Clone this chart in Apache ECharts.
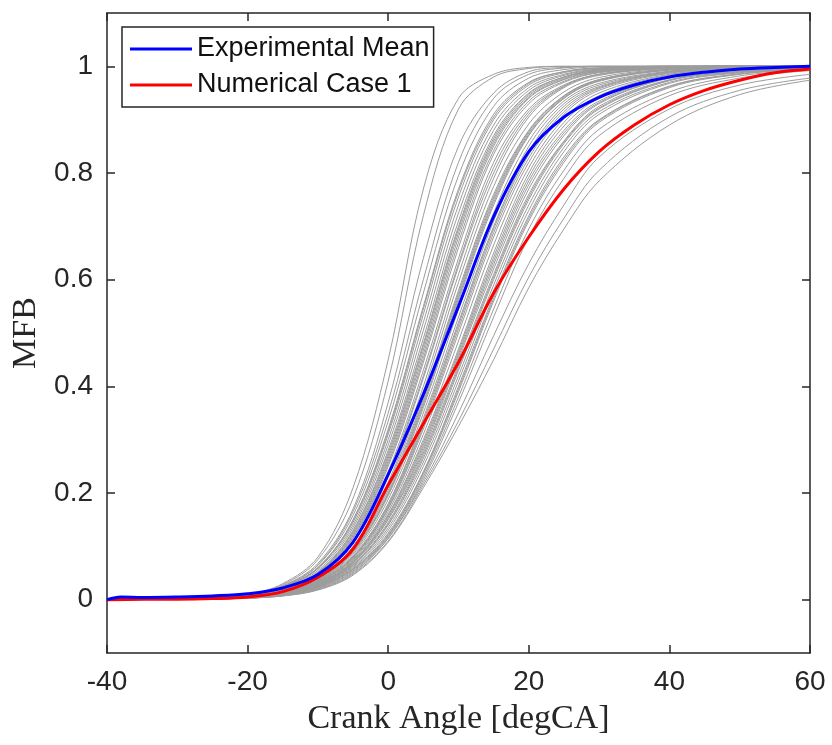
<!DOCTYPE html>
<html>
<head>
<meta charset="utf-8">
<script src="https://cdn.jsdelivr.net/npm/echarts@6/dist/echarts.min.js"></script>
<style>
  html, body { margin: 0; padding: 0; background: #fff; }
  #chart { width: 832px; height: 745px; }
</style>
</head>
<body>
<div id="chart"></div>
<script>
// crank angle samples for the individual cycles
const cycleAngles = [-40, -30, -20, -15, -10, -5, 0, 5, 10, 15, 20, 25, 30, 40, 50, 60];
// MFB of the individual measured cycles (grey)
const grayCycles = [
  [0, 0.002, 0.010, 0.030, 0.080, 0.210, 0.450, 0.770, 0.940, 0.985, 0.998, 1, 1, 1, 1, 1],
  [0, 0.002, 0.010, 0.028, 0.075, 0.190, 0.410, 0.720, 0.920, 0.980, 0.996, 1, 1, 1, 1, 1],
  [0, 0.002, 0.009, 0.026, 0.068, 0.170, 0.370, 0.640, 0.850, 0.950, 0.990, 0.998, 1, 1, 1, 1],
  [0, 0.002, 0.009, 0.025, 0.065, 0.165, 0.350, 0.600, 0.820, 0.940, 0.985, 0.997, 1, 1, 1, 1],
  [0, 0.002, 0.009, 0.025, 0.064, 0.158, 0.335, 0.575, 0.795, 0.925, 0.978, 0.994, 0.999, 1, 1, 1],
  [0, 0.002, 0.009, 0.024, 0.060, 0.150, 0.320, 0.550, 0.770, 0.910, 0.970, 0.990, 0.997, 1, 1, 1],
  [0, 0.002, 0.008, 0.023, 0.059, 0.148, 0.315, 0.545, 0.765, 0.905, 0.968, 0.990, 0.997, 1, 1, 1],
  [0, 0.002, 0.008, 0.023, 0.060, 0.145, 0.310, 0.535, 0.755, 0.900, 0.965, 0.988, 0.996, 1, 1, 1],
  [0, 0.002, 0.008, 0.022, 0.058, 0.140, 0.300, 0.520, 0.740, 0.890, 0.960, 0.985, 0.995, 1, 1, 1],
  [0, 0.002, 0.008, 0.021, 0.055, 0.135, 0.290, 0.505, 0.725, 0.880, 0.955, 0.983, 0.994, 1, 1, 1],
  [0, 0.002, 0.008, 0.020, 0.052, 0.130, 0.280, 0.490, 0.710, 0.870, 0.950, 0.980, 0.993, 0.999, 1, 1],
  [0, 0.002, 0.007, 0.020, 0.051, 0.128, 0.275, 0.480, 0.700, 0.865, 0.948, 0.980, 0.993, 0.999, 1, 1],
  [0, 0.002, 0.007, 0.019, 0.050, 0.125, 0.270, 0.475, 0.695, 0.860, 0.945, 0.978, 0.992, 0.999, 1, 1],
  [0, 0.002, 0.007, 0.019, 0.049, 0.122, 0.265, 0.468, 0.688, 0.855, 0.942, 0.976, 0.991, 0.998, 1, 1],
  [0, 0.002, 0.007, 0.018, 0.048, 0.120, 0.260, 0.460, 0.680, 0.850, 0.940, 0.975, 0.990, 0.998, 1, 1],
  [0, 0.002, 0.007, 0.018, 0.047, 0.117, 0.255, 0.452, 0.670, 0.842, 0.935, 0.972, 0.989, 0.998, 1, 1],
  [0, 0.002, 0.007, 0.017, 0.046, 0.115, 0.250, 0.445, 0.660, 0.835, 0.930, 0.970, 0.988, 0.998, 1, 1],
  [0, 0.002, 0.007, 0.018, 0.045, 0.110, 0.240, 0.430, 0.640, 0.820, 0.920, 0.965, 0.985, 0.997, 1, 1],
  [0, 0.002, 0.007, 0.017, 0.044, 0.108, 0.235, 0.420, 0.630, 0.810, 0.915, 0.963, 0.985, 0.997, 1, 1],
  [0, 0.002, 0.006, 0.016, 0.043, 0.105, 0.230, 0.415, 0.625, 0.800, 0.910, 0.962, 0.985, 0.997, 1, 1],
  [0, 0.002, 0.006, 0.016, 0.042, 0.100, 0.220, 0.400, 0.610, 0.790, 0.905, 0.960, 0.983, 0.996, 0.999, 1],
  [0, 0.002, 0.006, 0.016, 0.041, 0.098, 0.215, 0.390, 0.595, 0.775, 0.892, 0.952, 0.979, 0.995, 0.999, 1],
  [0, 0.002, 0.006, 0.015, 0.040, 0.095, 0.210, 0.380, 0.580, 0.760, 0.880, 0.945, 0.975, 0.994, 0.999, 1],
  [0, 0.002, 0.006, 0.015, 0.039, 0.094, 0.205, 0.375, 0.575, 0.755, 0.878, 0.944, 0.975, 0.994, 0.999, 1],
  [0, 0.001, 0.006, 0.015, 0.038, 0.092, 0.200, 0.370, 0.570, 0.750, 0.875, 0.942, 0.974, 0.994, 0.999, 1],
  [0, 0.001, 0.005, 0.014, 0.037, 0.090, 0.198, 0.365, 0.565, 0.745, 0.872, 0.940, 0.973, 0.993, 0.998, 1],
  [0, 0.001, 0.005, 0.014, 0.036, 0.088, 0.195, 0.360, 0.560, 0.740, 0.870, 0.940, 0.972, 0.993, 0.998, 1],
  [0, 0.001, 0.005, 0.014, 0.035, 0.085, 0.188, 0.350, 0.545, 0.725, 0.860, 0.935, 0.968, 0.991, 0.998, 1],
  [0, 0.001, 0.005, 0.013, 0.034, 0.082, 0.180, 0.340, 0.530, 0.710, 0.850, 0.930, 0.965, 0.990, 0.997, 1],
  [0, 0.001, 0.005, 0.013, 0.033, 0.080, 0.175, 0.330, 0.515, 0.695, 0.835, 0.920, 0.960, 0.989, 0.997, 1],
  [0, 0.001, 0.005, 0.013, 0.033, 0.079, 0.178, 0.335, 0.520, 0.700, 0.840, 0.925, 0.962, 0.990, 0.997, 1],
  [0, 0.001, 0.005, 0.012, 0.032, 0.078, 0.172, 0.325, 0.508, 0.688, 0.828, 0.915, 0.958, 0.988, 0.996, 0.999],
  [0, 0.001, 0.005, 0.012, 0.031, 0.076, 0.170, 0.320, 0.500, 0.680, 0.820, 0.910, 0.955, 0.987, 0.996, 0.999],
  [0, 0.001, 0.004, 0.012, 0.030, 0.074, 0.165, 0.310, 0.485, 0.665, 0.810, 0.902, 0.950, 0.985, 0.995, 0.999],
  [0, 0.001, 0.004, 0.012, 0.030, 0.072, 0.160, 0.300, 0.470, 0.650, 0.800, 0.895, 0.945, 0.984, 0.995, 0.999],
  [0, 0.001, 0.004, 0.011, 0.029, 0.071, 0.158, 0.295, 0.465, 0.642, 0.792, 0.888, 0.940, 0.982, 0.994, 0.999],
  [0, 0.001, 0.004, 0.011, 0.029, 0.070, 0.155, 0.290, 0.460, 0.635, 0.785, 0.880, 0.935, 0.980, 0.994, 0.999],
  [0, 0.001, 0.004, 0.011, 0.028, 0.069, 0.152, 0.285, 0.455, 0.628, 0.778, 0.875, 0.932, 0.979, 0.993, 0.998],
  [0, 0.001, 0.004, 0.011, 0.028, 0.068, 0.150, 0.280, 0.450, 0.620, 0.770, 0.870, 0.930, 0.978, 0.993, 0.998],
  [0, 0.001, 0.004, 0.010, 0.027, 0.066, 0.145, 0.275, 0.440, 0.610, 0.760, 0.860, 0.925, 0.975, 0.991, 0.997],
  [0, 0.001, 0.004, 0.010, 0.026, 0.065, 0.142, 0.270, 0.435, 0.605, 0.755, 0.858, 0.922, 0.974, 0.990, 0.997],
  [0, 0.001, 0.004, 0.010, 0.026, 0.064, 0.140, 0.265, 0.430, 0.600, 0.750, 0.855, 0.920, 0.973, 0.990, 0.997],
  [0, 0.001, 0.004, 0.010, 0.025, 0.062, 0.135, 0.258, 0.420, 0.590, 0.740, 0.848, 0.915, 0.970, 0.989, 0.996],
  [0, 0.001, 0.004, 0.010, 0.025, 0.060, 0.130, 0.250, 0.410, 0.580, 0.730, 0.840, 0.910, 0.968, 0.988, 0.996],
  [0, 0.001, 0.003, 0.009, 0.024, 0.058, 0.125, 0.240, 0.400, 0.570, 0.720, 0.830, 0.900, 0.963, 0.986, 0.996],
  [0, 0.001, 0.003, 0.009, 0.024, 0.057, 0.122, 0.238, 0.395, 0.565, 0.715, 0.825, 0.898, 0.962, 0.986, 0.996],
  [0, 0.001, 0.003, 0.009, 0.023, 0.056, 0.120, 0.235, 0.390, 0.560, 0.710, 0.820, 0.895, 0.960, 0.985, 0.995],
  [0, 0.001, 0.003, 0.009, 0.022, 0.054, 0.118, 0.230, 0.380, 0.545, 0.695, 0.805, 0.882, 0.952, 0.982, 0.994],
  [0, 0.001, 0.003, 0.008, 0.021, 0.052, 0.115, 0.225, 0.370, 0.530, 0.680, 0.790, 0.870, 0.945, 0.978, 0.992],
  [0, 0.001, 0.003, 0.008, 0.020, 0.050, 0.115, 0.220, 0.350, 0.495, 0.630, 0.740, 0.830, 0.920, 0.965, 0.985],
  [0, 0.001, 0.003, 0.007, 0.019, 0.048, 0.110, 0.215, 0.335, 0.470, 0.605, 0.715, 0.805, 0.905, 0.955, 0.978],
  [0, 0.001, 0.003, 0.007, 0.018, 0.046, 0.108, 0.210, 0.325, 0.450, 0.585, 0.695, 0.785, 0.890, 0.947, 0.974]
];
// experimental mean
const meanAngles = [-40, -38, -35, -30, -25, -20, -15, -10, -5, 0, 5, 10, 15, 20, 25, 30, 35, 40, 45, 50, 55, 60];
const meanMFB = [0, 0.005, 0.004, 0.005, 0.007, 0.011, 0.022, 0.047, 0.108, 0.235, 0.385, 0.550, 0.718, 0.840, 0.905, 0.942, 0.965, 0.980, 0.989, 0.995, 0.998, 1];
// numerical case 1
const caseAngles = [-40, -35, -30, -25, -20, -15, -10, -5, 0, 5, 10, 15, 20, 25, 30, 35, 40, 45, 50, 55, 60];
const caseMFB = [0, 0.001, 0.001, 0.002, 0.005, 0.015, 0.042, 0.095, 0.215, 0.330, 0.445, 0.575, 0.680, 0.770, 0.840, 0.890, 0.928, 0.955, 0.974, 0.988, 0.995];
const yTicks = [0, 0.2, 0.4, 0.6, 0.8, 1];

const axisColor = '#262626';
const pair = (xs, ys) => xs.map((x, i) => [x, ys[i]]);

let series = grayCycles.map((c, k) => ({
  name: 'cycle' + (k + 1),
  type: 'line',
  data: pair(cycleAngles, c),
  smooth: 0.35,
  symbol: 'none',
  silent: true,
  lineStyle: { color: '#9c9c9c', width: 1 },
  z: 2
}));
series.push({
  name: 'Numerical Case 1',
  type: 'line',
  data: pair(caseAngles, caseMFB),
  smooth: 0.35,
  symbol: 'none',
  lineStyle: { color: '#ff0000', width: 3 },
  itemStyle: { color: '#ff0000' },
  z: 3
});
series.push({
  name: 'Experimental Mean',
  type: 'line',
  data: pair(meanAngles, meanMFB),
  smooth: 0.35,
  symbol: 'none',
  lineStyle: { color: '#0000ff', width: 3 },
  itemStyle: { color: '#0000ff' },
  z: 4
});

const tickLabel = { color: axisColor, fontSize: 28, fontFamily: 'Liberation Sans, Arial' };
const nameStyle = { color: axisColor, fontSize: 34, fontFamily: 'Liberation Serif, Times New Roman' };

let myChart = echarts.init(document.getElementById('chart'));
let option = {
  animation: false,
  backgroundColor: '#fff',
  grid: { left: 107, right: 22, top: 13, bottom: 92, containLabel: false },
  legend: {
    data: ['Experimental Mean', 'Numerical Case 1'],
    orient: 'vertical',
    left: 122,
    top: 27,
    icon: 'rect',
    itemWidth: 62,
    itemHeight: 3,
    itemGap: 6,
    padding: [7, 4, 7, 8],
    borderColor: axisColor,
    borderWidth: 1.5,
    backgroundColor: '#fff',
    selectedMode: false,
    textStyle: { color: '#111', fontSize: 27, lineHeight: 30, fontFamily: 'Liberation Sans, Arial' }
  },
  xAxis: [
    {
      type: 'value', min: -40, max: 60, interval: 20,
      name: 'Crank Angle [degCA]', nameLocation: 'middle', nameGap: 49,
      nameTextStyle: nameStyle,
      axisLine: { onZero: false, lineStyle: { color: axisColor, width: 1.5 } },
      axisTick: { inside: true, length: 8, lineStyle: { color: axisColor, width: 1.5 } },
      axisLabel: Object.assign({ margin: 15 }, tickLabel),
      splitLine: { show: false }
    },
    {
      type: 'value', min: -40, max: 60, interval: 20, position: 'top',
      axisLine: { onZero: false, lineStyle: { color: axisColor, width: 1.5 } },
      axisTick: { inside: true, length: 8, lineStyle: { color: axisColor, width: 1.5 } },
      axisLabel: { show: false },
      splitLine: { show: false }
    }
  ],
  yAxis: [
    {
      type: 'value', min: -0.1, max: 1.1,
      name: 'MFB', nameLocation: 'middle', nameGap: 63, nameRotate: 90,
      nameTextStyle: nameStyle,
      axisLine: { show: true, onZero: false, lineStyle: { color: axisColor, width: 1.5 } },
      axisTick: { show: true, inside: true, length: 8, customValues: yTicks, lineStyle: { color: axisColor, width: 1.5 } },
      axisLabel: Object.assign({ margin: 14, customValues: yTicks }, tickLabel),
      splitLine: { show: false }
    },
    {
      type: 'value', min: -0.1, max: 1.1, position: 'right',
      axisLine: { show: true, onZero: false, lineStyle: { color: axisColor, width: 1.5 } },
      axisTick: { show: true, inside: true, length: 8, customValues: yTicks, lineStyle: { color: axisColor, width: 1.5 } },
      axisLabel: { show: false },
      splitLine: { show: false }
    }
  ],
  series: series
};
myChart.setOption(option);
</script>
</body>
</html>
